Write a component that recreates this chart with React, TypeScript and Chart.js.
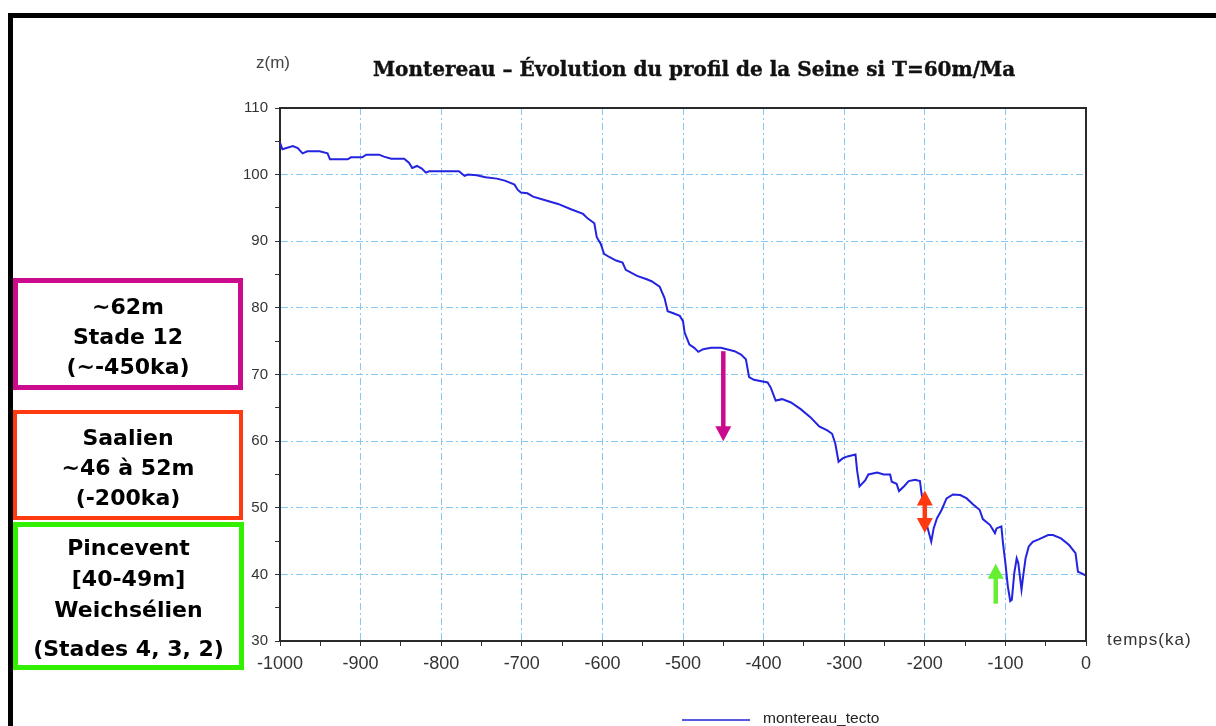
import React, { useEffect, useRef } from "react";
import { Chart, registerables } from "chart.js";

Chart.register(...registerables);

// ---- Data ----
const timeKa: number[] = [
  -1000, -997, -984, -978, -972, -966, -951, -941, -938, -916, -912, -898, -893, -877, -871, -862,
  -846, -840, -836, -830, -824, -819, -815, -778, -771, -767, -756, -745, -731, -721, -709, -705,
  -701, -693, -686, -672, -655, -639, -624, -618, -610, -607, -602, -598, -591, -583, -575, -571,
  -557, -545, -539, -529, -523, -519, -512, -504, -500, -498, -492, -486, -481, -475, -465, -453,
  -436, -428, -422, -418, -412, -395, -391, -385, -377, -366, -354, -342, -331, -321, -315, -311,
  -307, -302, -296, -286, -284, -281, -274, -270, -259, -251, -243, -241, -235, -232, -226, -220,
  -212, -206, -204, -200, -197, -192, -189, -185, -179, -173, -165, -156, -148, -140, -132, -128,
  -119, -113, -111, -105, -103, -100, -97, -94, -92, -89, -86, -84, -82, -80, -78, -75,
  -71, -66, -58, -47, -41, -31, -21, -13, -10, -6, 0,
];
const altitudeM: number[] = [
  104.8, 103.8, 104.3, 104.0, 103.2, 103.5, 103.5, 103.2, 102.3, 102.3, 102.6, 102.6, 103.0, 103.0, 102.7, 102.4,
  102.4, 101.8, 101.0, 101.3, 100.9, 100.3, 100.5, 100.5, 99.8, 100.0, 99.9, 99.6, 99.4, 99.1, 98.5, 97.7,
  97.3, 97.2, 96.7, 96.2, 95.6, 94.8, 94.1, 93.4, 92.7, 90.6, 89.6, 88.1, 87.6, 87.1, 86.8, 85.7,
  84.8, 84.3, 84.0, 83.2, 81.5, 79.5, 79.2, 78.8, 78.0, 76.3, 74.5, 74.0, 73.4, 73.8, 74.0, 74.0,
  73.5, 73.0, 72.3, 69.6, 69.2, 68.8, 68.0, 66.1, 66.3, 65.8, 64.8, 63.6, 62.2, 61.6, 61.1, 59.6,
  56.9, 57.4, 57.7, 58.0, 55.6, 53.2, 54.1, 55.0, 55.3, 55.0, 55.0, 53.9, 53.6, 52.5, 53.2, 54.0,
  54.2, 54.0, 52.1, 49.7, 47.2, 44.9, 46.9, 48.4, 49.7, 51.4, 52.0, 51.9, 51.4, 50.5, 49.7, 48.3,
  47.4, 46.2, 46.9, 47.2, 44.7, 41.7, 38.2, 36.0, 36.2, 40.2, 42.4, 41.7, 39.7, 37.7, 39.7, 42.4,
  44.2, 44.9, 45.3, 45.9, 45.9, 45.4, 44.4, 43.2, 40.4, 40.2, 39.8,
];

// Annotation arrows (x in ka, from/to altitude in m)
const arrowX: number[] = [-450, -200, -112];
const arrowFrom: number[] = [73.5, 52.6, 35.6];
const arrowTo: number[] = [60.0, 46.2, 41.6];
const arrowDouble: boolean[] = [false, true, false];
const arrowColors: string[] = ["#CC0A8E", "#FF3A10", "#66EE33"];

const seriesLabel = "montereau_tecto";
const chartTitle = "Montereau – Évolution du profil de la Seine si T=60m/Ma";
const yAxisTitle = "z(m)";
const xAxisTitle = "temps(ka)";

const boxMagenta: string[] = ["~62m", "Stade 12", "(~-450ka)"];
const boxRed: string[] = ["Saalien", "~46 à 52m", "(-200ka)"];
const boxGreen: string[] = ["Pincevent", "[40-49m]", "Weichsélien", "(Stades 4, 3, 2)"];

const GRID_COLOR = "#86C8F2";
const LINE_COLOR = "#2323E0";

const arrowPlugin = {
  id: "arrowsAndFrame",
  afterDraw(chart: any) {
    const { ctx, chartArea, scales } = chart;
    const xs = scales.x;
    const ys = scales.y;
    ctx.save();
    ctx.strokeStyle = "#2a2a2a";
    ctx.lineWidth = 2;
    ctx.beginPath();
    ctx.moveTo(chartArea.left, chartArea.top);
    ctx.lineTo(chartArea.right, chartArea.top);
    ctx.lineTo(chartArea.right, chartArea.bottom);
    ctx.stroke();
    ctx.restore();

    arrowX.forEach((xv, i) => {
      const px = xs.getPixelForValue(xv);
      const y0 = ys.getPixelForValue(arrowFrom[i]);
      const y1 = ys.getPixelForValue(arrowTo[i]);
      const dir = y1 > y0 ? 1 : -1;
      const headLen = 15;
      const headW = 8;
      ctx.save();
      ctx.strokeStyle = arrowColors[i];
      ctx.fillStyle = arrowColors[i];
      ctx.lineWidth = 4.5;
      const sStart = arrowDouble[i] ? y0 + dir * headLen * 0.8 : y0;
      const sEnd = y1 - dir * headLen * 0.8;
      ctx.beginPath();
      ctx.moveTo(px, sStart);
      ctx.lineTo(px, sEnd);
      ctx.stroke();
      const head = (tipY: number, d: number) => {
        ctx.beginPath();
        ctx.moveTo(px, tipY);
        ctx.lineTo(px - headW, tipY - d * headLen);
        ctx.lineTo(px + headW, tipY - d * headLen);
        ctx.closePath();
        ctx.fill();
      };
      head(y1, dir);
      if (arrowDouble[i]) head(y0, -dir);
      ctx.restore();
    });
  },
};

export default function App() {
  const canvasRef = useRef<HTMLCanvasElement | null>(null);

  useEffect(() => {
    if (!canvasRef.current) return;
    const points = timeKa.map((t, i) => ({ x: t, y: altitudeM[i] }));
    const chart = new Chart(canvasRef.current, {
      type: "line",
      data: {
        datasets: [
          {
            label: seriesLabel,
            data: points,
            borderColor: LINE_COLOR,
            backgroundColor: LINE_COLOR,
            borderWidth: 2,
            pointRadius: 0,
            tension: 0,
            fill: false,
          },
        ],
      },
      options: {
        responsive: false,
        animation: false,
        layout: { padding: { left: 240, right: 130, top: 108, bottom: 45 } },
        plugins: {
          legend: { display: false },
          title: { display: false },
          tooltip: { enabled: false },
        },
        scales: {
          x: {
            type: "linear",
            min: -1000,
            max: 0,
            afterFit: (s: any) => {
              s.height = 40;
            },
            ticks: {
              stepSize: 50,
              autoSkip: false,
              maxRotation: 0,
              color: "#333",
              padding: 7,
              font: { family: "Liberation Sans", size: 18 },
              callback: (v: any) => (Number(v) % 100 === 0 ? String(v) : ""),
            },
            grid: {
              color: (c: any) => (c.tick && c.tick.value % 100 === 0 ? GRID_COLOR : "rgba(0,0,0,0)"),
              tickColor: "#333",
              tickLength: 5,
              lineWidth: 1,
            },
            border: { display: true, color: "#2a2a2a", width: 2, dash: [7, 3, 2, 3] },
          },
          y: {
            type: "linear",
            min: 30,
            max: 110,
            afterFit: (s: any) => {
              s.width = 40;
            },
            ticks: {
              stepSize: 5,
              autoSkip: false,
              color: "#333",
              padding: 7,
              font: { family: "Liberation Sans", size: 15 },
              callback: (v: any) => (Number(v) % 10 === 0 ? String(v) : ""),
            },
            grid: {
              color: (c: any) => (c.tick && c.tick.value % 10 === 0 ? GRID_COLOR : "rgba(0,0,0,0)"),
              tickColor: "#333",
              tickLength: 5,
              lineWidth: 1,
            },
            border: { display: true, color: "#2a2a2a", width: 2, dash: [7, 3, 2, 3] },
          },
        },
      },
      plugins: [arrowPlugin],
    });
    return () => chart.destroy();
  }, []);

  const boxText: React.CSSProperties = {
    fontFamily: "'DejaVu Sans', Verdana, sans-serif",
    fontWeight: "bold",
    fontSize: 22,
    color: "#000",
    textAlign: "center",
    whiteSpace: "nowrap",
  };

  return (
    <div
      style={{
        position: "fixed",
        left: 0,
        top: 0,
        width: 1216,
        height: 726,
        background: "#fff",
        overflow: "hidden",
      }}
    >
      <canvas ref={canvasRef} width={1216} height={726} style={{ position: "absolute", left: 0, top: 0 }} />
      {/* outer frame */}
      <div style={{ position: "absolute", left: 8, top: 13, width: 1208, height: 5, background: "#000" }} />
      <div style={{ position: "absolute", left: 8, top: 13, width: 5, height: 713, background: "#000" }} />

      {/* title */}
      <div
        style={{
          position: "absolute",
          left: 300,
          width: 788,
          top: 57,
          textAlign: "center",
          fontFamily: "'DejaVu Serif', serif",
          fontWeight: "bold",
          fontSize: 20,
          color: "#111",
          whiteSpace: "nowrap",
          WebkitTextStroke: "0.4px #111",
        }}
      >
        {chartTitle}
      </div>
      <div
        style={{
          position: "absolute",
          left: 256,
          top: 53,
          fontFamily: "'Liberation Sans', sans-serif",
          fontSize: 17,
          color: "#444",
        }}
      >
        {yAxisTitle}
      </div>
      <div
        style={{
          position: "absolute",
          left: 1107,
          top: 630,
          fontFamily: "'Liberation Sans', sans-serif",
          fontSize: 17,
          letterSpacing: 1,
          color: "#333",
        }}
      >
        {xAxisTitle}
      </div>

      {/* legend */}
      <div style={{ position: "absolute", left: 682, top: 719, width: 68, height: 2, background: "#5858E0" }} />
      <div
        style={{
          position: "absolute",
          left: 763,
          top: 709,
          fontFamily: "'Liberation Sans', sans-serif",
          fontSize: 15.5,
          color: "#222",
          whiteSpace: "nowrap",
        }}
      >
        {seriesLabel}
      </div>

      {/* annotation boxes */}
      <div
        style={{
          position: "absolute",
          left: 13,
          top: 278,
          width: 230,
          height: 112,
          boxSizing: "border-box",
          border: "5px solid #CC0A8E",
          paddingTop: 9,
          lineHeight: "30px",
          ...boxText,
        }}
      >
        {boxMagenta.map((t) => (
          <div key={t}>{t}</div>
        ))}
      </div>
      <div
        style={{
          position: "absolute",
          left: 13,
          top: 410,
          width: 230,
          height: 110,
          boxSizing: "border-box",
          border: "4px solid #FF3A10",
          paddingTop: 9,
          lineHeight: "30px",
          ...boxText,
        }}
      >
        {boxRed.map((t) => (
          <div key={t}>{t}</div>
        ))}
      </div>
      <div
        style={{
          position: "absolute",
          left: 13,
          top: 522,
          width: 231,
          height: 148,
          boxSizing: "border-box",
          border: "5px solid #33F000",
          paddingTop: 5,
          lineHeight: "31px",
          ...boxText,
        }}
      >
        {boxGreen.map((t, i) => (
          <div key={t} style={{ marginTop: i === 3 ? 8 : 0 }}>
            {t}
          </div>
        ))}
      </div>
    </div>
  );
}
